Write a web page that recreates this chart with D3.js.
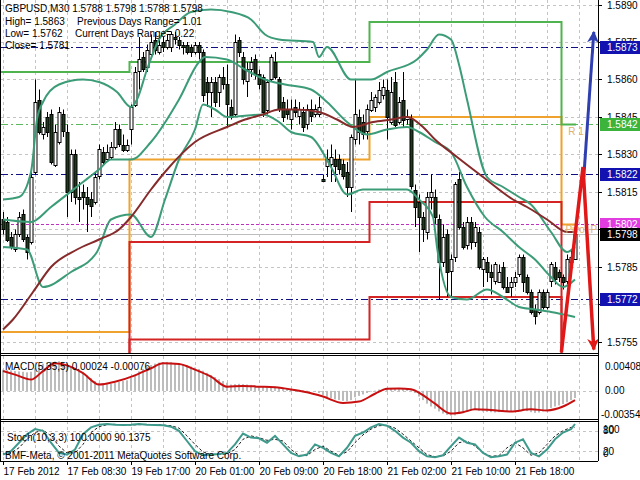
<!DOCTYPE html>
<html><head><meta charset="utf-8">
<script src="https://cdn.jsdelivr.net/npm/d3@7"></script>
<style>body{margin:0;background:#fff}svg{display:block}text{font-family:"Liberation Sans",Arial,sans-serif;font-size:10px}</style>
</head><body><svg id="c" width="640" height="480"></svg>
<script>
// ---------- DATA ----------
const tickLabels = ["17 Feb 2012","17 Feb 08:30","19 Feb 17:00","20 Feb 01:00","20 Feb 09:00","20 Feb 18:00","21 Feb 02:00","21 Feb 10:00","21 Feb 18:00"];
const open = [1.5804,1.5803,1.5797,1.5792,1.5798,1.5806,1.5797,1.5795,1.5823,1.5852,
1.5838,1.5845,1.5846,1.5826,1.5835,1.5846,1.5839,1.5815,1.5830,1.5813,
1.5815,1.5813,1.5812,1.5811,1.5821,1.5831,1.5828,1.5829,1.5833,1.5840,
1.5834,1.5832,1.5840,1.5850,1.5863,1.5869,1.5865,1.5870,1.5876,1.5871,
1.5875,1.5873,1.5873,1.5877,1.5876,1.5874,1.5874,1.5873,1.5871,1.5874,
1.5871,1.5859,1.5855,1.5859,1.5855,1.5861,1.5858,1.5849,1.5846,1.5876,
1.5869,1.5859,1.5864,1.5868,1.5862,1.5861,1.5848,1.5860,1.5867,1.5860,
1.5851,1.5848,1.5844,1.5849,1.5845,1.5847,1.5842,1.5848,1.5846,1.5846,
1.5820,1.5825,1.5826,1.5828,1.5828,1.5826,1.5823,1.5817,1.5836,1.5845,
1.5843,1.5839,1.5848,1.5849,1.5851,1.5854,1.5856,1.5843,1.5859,1.5843,
1.5852,1.5844,1.5844,1.5816,1.5811,1.5805,1.5799,1.5813,1.5813,1.5804,
1.5787,1.5798,1.5783,1.5789,1.5820,1.5801,1.5794,1.5803,1.5795,1.5799,
1.5784,1.5787,1.5783,1.5779,1.5779,1.5785,1.5777,1.5777,1.5779,1.5782,
1.5789,1.5781,1.5775,1.5768,1.5767,1.5775,1.5769,1.5779,1.5785,1.5783,
1.5781,1.5779,1.5787,1.5788];
const high = [1.5807,1.5805,1.5799,1.5800,1.5807,1.5808,1.5798,1.5823,1.5860,1.5856,
1.5843,1.5847,1.5848,1.5842,1.5849,1.5848,1.5842,1.5832,1.5832,1.5819,
1.5818,1.5817,1.5815,1.5823,1.5834,1.5833,1.5834,1.5835,1.5843,1.5842,
1.5838,1.5836,1.5850,1.5865,1.5877,1.5871,1.5874,1.5878,1.5879,1.5876,
1.5877,1.5878,1.5879,1.5879,1.5877,1.5875,1.5875,1.5874,1.5875,1.5875,
1.5872,1.5861,1.5861,1.5861,1.5862,1.5865,1.5866,1.5852,1.5878,1.5877,
1.5871,1.5867,1.5869,1.5870,1.5864,1.5862,1.5860,1.5870,1.5871,1.5861,
1.5853,1.5852,1.5852,1.5852,1.5851,1.5849,1.5850,1.5852,1.5850,1.5853,
1.5822,1.5832,1.5834,1.5832,1.5830,1.5828,1.5827,1.5838,1.5860,1.5848,
1.5846,1.5850,1.5855,1.5854,1.5859,1.5860,1.5860,1.5861,1.5863,1.5853,
1.5863,1.5848,1.5846,1.5818,1.5814,1.5807,1.5815,1.5822,1.5816,1.5806,
1.5802,1.5800,1.5790,1.5819,1.5823,1.5803,1.5805,1.5805,1.5803,1.5801,
1.5789,1.5789,1.5786,1.5787,1.5786,1.5787,1.5781,1.5781,1.5783,1.5790,
1.5790,1.5782,1.5776,1.5770,1.5776,1.5776,1.5776,1.5787,1.5787,1.5784,
1.5782,1.5790,1.5792,1.5798];
const low = [1.5798,1.5795,1.5792,1.5791,1.5797,1.5795,1.5788,1.5794,1.5822,1.5838,
1.5836,1.5837,1.5826,1.5825,1.5834,1.5837,1.5805,1.5811,1.5810,1.5803,
1.5808,1.5799,1.5805,1.5810,1.5820,1.5826,1.5827,1.5828,1.5832,1.5833,
1.5831,1.5831,1.5834,1.5849,1.5856,1.5863,1.5863,1.5869,1.5870,1.5870,
1.5871,1.5872,1.5871,1.5874,1.5872,1.5870,1.5870,1.5869,1.5870,1.5868,
1.5851,1.5849,1.5845,1.5849,1.5849,1.5856,1.5841,1.5844,1.5845,1.5869,
1.5858,1.5853,1.5861,1.5860,1.5856,1.5845,1.5846,1.5859,1.5860,1.5847,
1.5843,1.5844,1.5840,1.5845,1.5842,1.5839,1.5840,1.5843,1.5845,1.5845,
1.5819,1.5821,1.5819,1.5819,1.5822,1.5820,1.5813,1.5807,1.5834,1.5834,
1.5836,1.5836,1.5847,1.5847,1.5850,1.5852,1.5836,1.5842,1.5841,1.5842,
1.5841,1.5842,1.5816,1.5801,1.5791,1.5795,1.5796,1.5808,1.5802,1.5772,
1.5785,1.5773,1.5773,1.5787,1.5800,1.5792,1.5792,1.5792,1.5793,1.5784,
1.5777,1.5779,1.5774,1.5778,1.5779,1.5776,1.5775,1.5773,1.5777,1.5781,
1.5775,1.5774,1.5766,1.5762,1.5766,1.5768,1.5768,1.5777,1.5778,1.5779,
1.5776,1.5778,1.5786,1.5788];
const close = [1.5800,1.5796,1.5793,1.5798,1.5805,1.5796,1.5791,1.5821,1.5851,1.5839,
1.5841,1.5839,1.5827,1.5839,1.5847,1.5839,1.5815,1.5830,1.5813,1.5812,
1.5813,1.5810,1.5809,1.5821,1.5832,1.5827,1.5831,1.5833,1.5840,1.5834,
1.5832,1.5834,1.5849,1.5863,1.5868,1.5864,1.5872,1.5875,1.5872,1.5874,
1.5873,1.5876,1.5878,1.5876,1.5874,1.5873,1.5871,1.5871,1.5874,1.5871,
1.5854,1.5855,1.5859,1.5851,1.5861,1.5858,1.5850,1.5845,1.5875,1.5871,
1.5860,1.5864,1.5867,1.5862,1.5858,1.5847,1.5859,1.5869,1.5861,1.5848,
1.5845,1.5846,1.5848,1.5847,1.5848,1.5841,1.5848,1.5845,1.5848,1.5849,
1.5819,1.5828,1.5829,1.5825,1.5824,1.5821,1.5817,1.5837,1.5846,1.5839,
1.5838,1.5848,1.5852,1.5853,1.5856,1.5857,1.5845,1.5855,1.5842,1.5851,
1.5844,1.5845,1.5817,1.5809,1.5805,1.5800,1.5813,1.5815,1.5805,1.5787,
1.5797,1.5783,1.5788,1.5818,1.5801,1.5793,1.5803,1.5795,1.5801,1.5785,
1.5788,1.5783,1.5781,1.5786,1.5783,1.5777,1.5775,1.5779,1.5781,1.5789,
1.5779,1.5775,1.5767,1.5765,1.5775,1.5769,1.5775,1.5786,1.5780,1.5781,
1.5779,1.5788,1.5789,1.5798];
// Bollinger bands and moving average: [bar, price]
const bbUpper = [[0,1.5812],[4,1.5813],[7,1.5823],[8.5,1.5844],[10,1.5851],[14,1.5858],[20,1.5860],[24,1.5859],[28.5,1.5855],[32,1.5849],[33.5,1.5852],[36,1.5864],[39,1.5876],[43,1.5882],[47,1.5887],[52,1.5888],[57,1.5887],[62,1.5884],[65.5,1.5878],[69,1.5876],[77.5,1.5875],[79,1.5869],[81,1.5873],[87,1.5860],[92,1.5860],[96,1.5863],[103.5,1.5868],[106,1.5872],[109,1.5878],[112,1.5876],[114,1.5866],[116,1.5852],[121,1.5821],[125,1.5817],[129,1.5813],[132,1.5810],[137,1.5799],[141,1.5791],[143,1.5793]];
const bbMiddle = [[0,1.5804],[7,1.5803],[12,1.5809],[20,1.5819],[24,1.5824],[27,1.5828],[32,1.5828],[37,1.5835],[44,1.5852],[49,1.5867],[50.5,1.5869],[56,1.5868],[60.5,1.5864],[65.5,1.5860],[70.5,1.5858],[77,1.5856],[81,1.5851],[86,1.5843],[91,1.5838],[96,1.5840],[101,1.5841],[104,1.5839],[108,1.5835],[112,1.5831],[116,1.5817],[120.5,1.5805],[125,1.5799],[129,1.5793],[133,1.5788],[137,1.5781],[140,1.5777],[143,1.5780]];
const bbLower = [[0,1.5793],[6,1.5792],[10,1.5777],[17,1.5783],[23.5,1.5791],[27,1.5804],[32,1.5806],[37,1.5797],[40.5,1.5812],[44,1.5828],[48,1.5840],[50,1.5850],[53,1.5848],[56,1.5845],[65,1.5846],[69,1.5843],[72,1.5839],[77,1.5837],[82,1.5825],[86,1.5814],[90,1.5816],[101,1.5816],[104,1.5812],[107.5,1.5805],[108.5,1.5793],[112,1.5773],[116,1.5772],[121,1.5776],[125,1.5773],[129,1.5769],[133,1.5768],[137,1.5767],[143,1.5765]];
const maLine = [[0,1.5760],[2.5,1.5764],[7.5,1.5775],[12,1.5785],[18.5,1.5792],[24,1.5796],[29,1.5800],[32,1.5805],[37,1.5816],[40.5,1.5823],[48,1.5835],[56,1.5841],[60.5,1.5844],[65,1.5846],[69,1.5848],[73,1.5848],[79,1.5847],[83.5,1.5844],[87.5,1.5841],[92.5,1.5843],[97,1.5844],[101,1.5845],[105,1.5841],[108,1.5836],[113.5,1.5829],[120,1.5821],[127.5,1.5812],[131,1.5809],[136,1.5804],[141,1.5799],[143,1.5799]];
// daily pivot levels (day start bar)
const dayStart = [0,32,92,140];
const pivR1 = [1.5863,1.5867,1.5883,1.5842];
const pivP  = [1.5759,1.5828,1.5845,1.5802];
const pivS1 = [1.5740,1.5795,1.5811,1.5740];
const pivS2 = [1.5700,1.5756,1.5773,1.5700];
const priceTicks = [1.5890,1.5875,1.5860,1.5845,1.5830,1.5815,1.5800,1.5785,1.5770,1.5755];
const hLevels = [{v:1.5873,k:"nav"},{v:1.5842,k:"r1"},{v:1.5822,k:"nav"},{v:1.5802,k:"piv"},{v:1.5798,k:"bid"},{v:1.5772,k:"nav"}];
const blueArrow = [[145.2,1.5821],[147.7,1.5879]];
const redArrow = [[139.6,1.5751],[145.0,1.5825],[147.7,1.5752]];
// MACD (x1e-5)
const macdHist = [300,295,290,280,275,270,262,270,320,360,385,400,410,415,418,410,380,350,320,290,260,220,180,140,115,100,95,100,110,125,140,150,185,230,275,310,340,365,385,400,408,410,405,395,385,375,360,345,330,310,285,255,225,195,165,140,115,90,95,100,95,90,85,80,70,55,50,55,60,50,40,30,25,20,15,10,5,0,-10,-30,-60,-85,-105,-120,-130,-140,-145,-130,-90,-70,-50,-30,-10,5,20,30,35,35,40,40,40,35,10,-30,-80,-130,-180,-220,-250,-290,-320,-340,-350,-345,-320,-300,-285,-275,-270,-280,-290,-295,-300,-305,-300,-295,-290,-285,-275,-270,-275,-285,-300,-310,-305,-290,-270,-240,-220,-205,-185,-160,-130,-100];
const macdSignal = [[0,280],[3,230],[7,160],[10,280],[13,390],[16,360],[20,250],[24,90],[28,130],[33,220],[37,320],[40,390],[44,380],[48,300],[52,200],[56,60],[60,70],[64,60],[68,50],[72,20],[76,-20],[80,-80],[85,-170],[89,-150],[93,-40],[96,30],[99,35],[102,25],[105,-60],[108,-180],[112,-320],[115,-300],[118,-260],[122,-270],[127,-290],[132,-260],[136,-275],[140,-220],[143,-130]];
// Stochastic [bar, value]
const stochMain = [[0,10],[2,20],[4,45],[6,70],[8,85],[10,80],[12,45],[14,15],[16,10],[18,25],[20,70],[22,90],[24,98],[26,100],[28,98],[30,97],[32,98],[34,100],[36,98],[38,97],[40,96],[42,92],[44,80],[46,50],[48,20],[50,8],[52,10],[54,12],[56,15],[58,40],[60,72],[62,60],[64,58],[66,45],[68,65],[70,40],[72,15],[74,5],[76,10],[78,40],[80,30],[82,15],[84,5],[86,30],[88,65],[90,75],[92,90],[94,100],[96,95],[98,80],[100,60],[102,45],[104,20],[106,5],[108,2],[110,8],[112,35],[114,60],[116,45],[118,40],[120,15],[122,2],[124,5],[126,10],[128,45],[130,55],[132,15],[134,5],[136,25],[138,55],[140,75],[142,85],[143,100]];
const stochSig = [[0,12],[2,15],[4,30],[6,55],[8,75],[10,82],[12,65],[14,35],[16,15],[18,15],[20,40],[22,75],[24,92],[26,98],[28,99],[30,98],[32,97],[34,98],[36,99],[38,98],[40,97],[42,95],[44,88],[46,65],[48,40],[50,18],[52,10],[54,10],[56,12],[58,25],[60,55],[62,65],[64,60],[66,52],[68,55],[70,50],[72,25],[74,8],[76,7],[78,25],[80,35],[82,20],[84,8],[86,18],[88,45],[90,68],[92,85],[94,95],[96,96],[98,88],[100,70],[102,50],[104,30],[106,10],[108,4],[110,6],[112,20],[114,45],[116,50],[118,35],[120,15],[122,5],[124,7],[126,30],[128,45],[130,30],[132,8],[134,15],[136,40],[138,65],[140,80],[142,90],[143,90]];

// ---------- LAYOUT ----------
const svg = d3.select("#c");
const axisX = 598, mainB = 353, macdT = 356, macdB = 419, stT = 421, stB = 461;
const xs = d3.scaleLinear().domain([0,143]).range([3,575]);
const yP = d3.scaleLinear().domain([1.5890,1.5755]).range([4.5,342]);
const yM = d3.scaleLinear().domain([408,-354]).range([362,416]);
const yS = d3.scaleLinear().domain([100,0]).range([424,458]);

svg.append("rect").attr("width",640).attr("height",480).attr("fill","#fff");
const defs = svg.append("defs");
defs.append("clipPath").attr("id","mainClip").append("rect").attr("x",1).attr("y",0).attr("width",axisX-1).attr("height",mainB);
defs.append("clipPath").attr("id","macdClip").append("rect").attr("x",1).attr("y",macdT).attr("width",axisX-1).attr("height",macdB-macdT);
defs.append("clipPath").attr("id","stClip").append("rect").attr("x",1).attr("y",stT).attr("width",axisX-1).attr("height",stB-stT);
function marker(id,color){
  defs.append("marker").attr("id",id).attr("viewBox","0 0 10 10").attr("refX",9).attr("refY",5)
   .attr("markerUnits","userSpaceOnUse").attr("markerWidth",30).attr("markerHeight",12).attr("orient","auto")
   .append("path").attr("d","M0,0 L10,5 L0,10 L3,5 Z").attr("fill",color);
}
marker("mBlue","#2f3fb0"); marker("mRed","#e01818");

// grid
const grid = svg.append("g").attr("stroke","#c4c4c4").attr("stroke-dasharray","3,3").attr("stroke-width",1);
d3.range(0,145,8).forEach(b=>{
  const x = Math.round(xs(b))+0.5;
  grid.append("line").attr("x1",x).attr("x2",x).attr("y1",0).attr("y2",mainB);
  grid.append("line").attr("x1",x).attr("x2",x).attr("y1",macdT).attr("y2",macdB);
  grid.append("line").attr("x1",x).attr("x2",x).attr("y1",stT).attr("y2",stB);
});
priceTicks.forEach(p=>{
  const y = Math.round(yP(p))+0.5;
  grid.append("line").attr("x1",1).attr("x2",axisX).attr("y1",y).attr("y2",y);
});
[0].forEach(v=>{const y=Math.round(yM(v))+0.5;grid.append("line").attr("x1",1).attr("x2",axisX).attr("y1",y).attr("y2",y);});
[80,20].forEach(v=>{const y=Math.round(yS(v))+0.5;grid.append("line").attr("x1",1).attr("x2",axisX).attr("y1",y).attr("y2",y);});

const main = svg.append("g").attr("clip-path","url(#mainClip)");
// horizontal level lines
const lvlStyle = {nav:{c:"#101080",d:"7,3,2,3",w:1},r1:{c:"#5cb85c",d:"7,3,2,3",w:1},piv:{c:"#c030c0",d:"3,2",w:1},bid:{c:"#bdbdbd",d:null,w:1}};
hLevels.forEach(l=>{
  const s = lvlStyle[l.k]; const y = Math.round(yP(l.v))+0.5;
  main.append("line").attr("x1",1).attr("x2",axisX).attr("y1",y).attr("y2",y)
   .attr("stroke",s.c).attr("stroke-width",s.w).attr("stroke-dasharray",s.d);
});
// pivot step lines
function stepPts(levels){
  const pts = [[1,levels[0]]];
  for(let d=1; d<dayStart.length; d++) pts.push([xs(dayStart[d])-1.5,levels[d]]);
  pts.push([xs(143)+1,levels[levels.length-1]]);
  return pts;
}
const stepLine = d3.line().x(d=>d[0]).y(d=>yP(d[1])).curve(d3.curveStepAfter);
[[pivP,"#f0a22e"],[pivR1,"#4fb34f"],[pivS1,"#d42424"],[pivS2,"#d42424"]].forEach(([lv,c])=>{
  main.append("path").attr("d",stepLine(stepPts(lv))).attr("fill","none").attr("stroke",c).attr("stroke-width",2);
});

// candles
const bearFill = "#1e3b1e";
const cg = main.append("g");
close.forEach((c,i)=>{
  const x = Math.round(xs(i));
  cg.append("line").attr("x1",x+0.5).attr("x2",x+0.5).attr("y1",yP(high[i])).attr("y2",yP(low[i])).attr("stroke","#000").attr("stroke-width",1);
  const o = open[i]; const top = yP(Math.max(o,c)), bot = yP(Math.min(o,c));
  cg.append("rect").attr("x",x-1).attr("y",Math.round(top)+0.5).attr("width",3).attr("height",Math.max(1,Math.round(bot-top)))
    .attr("fill", c>=o ? "#fff" : bearFill).attr("stroke","#000").attr("stroke-width",1);
});

// indicators
const ind = d3.line().x(d=>xs(d[0])).y(d=>yP(d[1])).curve(d3.curveMonotoneX);
[bbUpper,bbMiddle,bbLower].forEach(a=>main.append("path").attr("d",ind(a)).attr("fill","none").attr("stroke","#3c9c78").attr("stroke-width",2));
main.append("path").attr("d",ind(maLine)).attr("fill","none").attr("stroke","#862a2a").attr("stroke-width",2);

// labels R1 / Pivot
main.append("text").attr("x",xs(141.3)).attr("y",yP(1.5842)+10).attr("fill","#e0b070").text("R 1");
main.append("text").attr("x",xs(140.6)).attr("y",yP(1.5802)+8).attr("fill","#e0b070").text("Pivot P");

// arrows
const aLine = d3.line().x(d=>xs(d[0])).y(d=>yP(d[1]));
svg.append("path").attr("d",aLine(blueArrow)).attr("fill","none").attr("stroke","#2f3fb0").attr("stroke-width",3).attr("marker-end","url(#mBlue)");
svg.append("path").attr("d",aLine(redArrow)).attr("fill","none").attr("stroke","#e01818").attr("stroke-width",3.5).attr("stroke-linejoin","miter").attr("marker-end","url(#mRed)");

// MACD pane
const mg = svg.append("g").attr("clip-path","url(#macdClip)");
macdHist.forEach((v,i)=>{
  const x = Math.round(xs(i)); const y0 = yM(0), y1 = yM(v);
  mg.append("rect").attr("x",x-1).attr("y",Math.min(y0,y1)).attr("width",2).attr("height",Math.abs(y1-y0)).attr("fill","#bcbcbc");
});
mg.append("path").attr("d",d3.line().x(d=>xs(d[0])).y(d=>yM(d[1])).curve(d3.curveMonotoneX)(macdSignal)).attr("fill","none").attr("stroke","#c81010").attr("stroke-width",2);

// Stoch pane
const sg = svg.append("g").attr("clip-path","url(#stClip)");
const sl = d3.line().x(d=>xs(d[0])).y(d=>yS(d[1]));
sg.append("path").attr("d",sl(stochSig)).attr("fill","none").attr("stroke","#202020").attr("stroke-width",1).attr("stroke-dasharray","3,2");
sg.append("path").attr("d",sl(stochMain)).attr("fill","none").attr("stroke","#3d9a8c").attr("stroke-width",2);

// pane borders
const bd = svg.append("g").attr("stroke","#000").attr("stroke-width",1);
bd.append("line").attr("x1",axisX+0.5).attr("x2",axisX+0.5).attr("y1",0).attr("y2",stB);
bd.append("line").attr("x1",0.5).attr("x2",0.5).attr("y1",0).attr("y2",stB);
[mainB+0.5,macdT-0.5,macdB+0.5,stT-0.5+1,stB+0.5].forEach(y=>bd.append("line").attr("x1",0).attr("x2",axisX).attr("y1",y).attr("y2",y));

// price axis (labels fully hidden behind a level box are skipped; partly hidden ones stay)
const pa = svg.append("g");
const covered = p => hLevels.some(l => { const d = yP(p)-yP(l.v); return d > -4.9 && d < 6; });
priceTicks.forEach(p=>{
  const y = Math.round(yP(p))+0.5;
  pa.append("line").attr("x1",axisX).attr("x2",axisX+4).attr("y1",y).attr("y2",y).attr("stroke","#000");
  if(!covered(p)) pa.append("text").attr("x",607).attr("y",y).attr("dy","0.35em").text(p.toFixed(4));
});
const boxCol = {nav:"#1212b0",r1:"#3cb43c",piv:"#e03ce0",bid:"#000"};
hLevels.forEach(l=>{
  const y = yP(l.v);
  pa.append("rect").attr("x",axisX+2).attr("y",Math.round(y)-6).attr("width",40).attr("height",13).attr("fill",boxCol[l.k]);
  pa.append("text").attr("x",607).attr("y",y).attr("dy","0.35em").attr("fill","#fff").text(l.v.toFixed(4));
});
// MACD axis
[[408,"0.00408"],[0,"0.00"],[-354,"-0.00354"]].forEach(([v,t])=>{
  const y=yM(v);
  pa.append("text").attr("x",t[0]==="-"?601:605).attr("y",Math.max(366,Math.min(414,y))).attr("dy","0.35em").text(t);
});
// Stoch axis
[[80,"80",0],[100,"100",-1],[20,"20",0],[0,"0",2]].forEach(([v,t,o])=>{
  const y = v>=80 ? yS(80)+o : yS(20)+o;
  pa.append("text").attr("x",603).attr("y",y).attr("dy","0.35em").text(t);
});

// time axis
tickLabels.forEach((t,k)=>{
  const x = Math.round(xs(k*16))+0.5;
  pa.append("line").attr("x1",x).attr("x2",x).attr("y1",stB).attr("y2",stB+4).attr("stroke","#000");
  pa.append("text").attr("x",x).attr("y",471).attr("dy","0.35em").text(t);
});

// info texts
const info = svg.append("g");
info.append("text").attr("x",5).attr("y",8).attr("dy","0.35em").text("GBPUSD,M30  1.5788 1.5798 1.5788 1.5798");
info.append("text").attr("x",5).attr("y",21).attr("dy","0.35em").text("High= 1.5863");
info.append("text").attr("x",77).attr("y",21).attr("dy","0.35em").text("Previous Days Range= 1.01");
info.append("text").attr("x",5).attr("y",33).attr("dy","0.35em").text("Low= 1.5762");
info.append("text").attr("x",75).attr("y",33).attr("dy","0.35em").text("Current Days Range= 0.22");
info.append("text").attr("x",5).attr("y",45).attr("dy","0.35em").text("Close= 1.5781");
info.append("text").attr("x",5).attr("y",366).attr("dy","0.35em").text("MACD(5,35,5) 0.00024 -0.00076");
info.append("text").attr("x",7).attr("y",437).attr("dy","0.35em").text("Stoch(10,3,3) 100.0000 90.1375");
info.append("text").attr("x",5).attr("y",455).attr("dy","0.35em").text("BMF-Meta, © 2001-2011 MetaQuotes Software Corp.");
</script></body></html>
